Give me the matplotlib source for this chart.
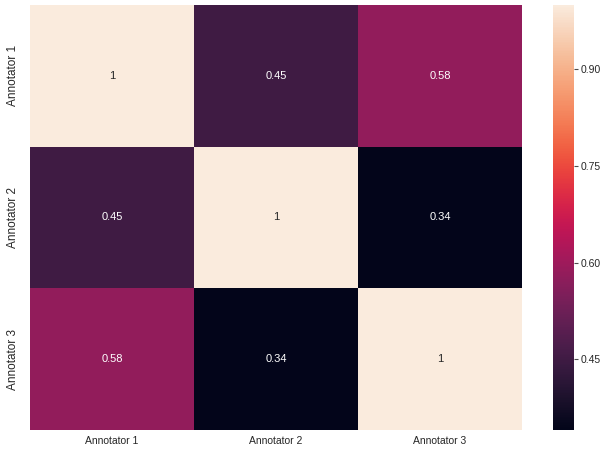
import numpy as np
import matplotlib
matplotlib.use('Agg')
import matplotlib.pyplot as plt
import seaborn as sns

# annotator agreement values
labels = ['Annotator 1', 'Annotator 2', 'Annotator 3']
row1 = [1, 0.45, 0.58]
row2 = [0.45, 1, 0.34]
row3 = [0.58, 0.34, 1]
mat = np.array([row1, row2, row3])
cbar_ticks = [0.45, 0.60, 0.75, 0.90]

sns.set_theme()
plt.rcParams['font.family'] = ['Liberation Sans', 'DejaVu Sans']

fig = plt.figure(figsize=(6.05, 4.5), dpi=100)
ax = fig.add_axes([30/605, 20/450, 492/605, 425/450])
cax = fig.add_axes([553/605, 20/450, 21/605, 425/450])

sns.heatmap(mat, annot=True, xticklabels=labels, yticklabels=labels,
            ax=ax, cbar_ax=cax, annot_kws={'size': 8},
            cbar_kws={'ticks': cbar_ticks, 'format': '%.2f'})
ax.tick_params(axis='x', labelsize=7.5, length=0, pad=4)
ax.tick_params(axis='y', labelsize=8.5, length=0, pad=8)
cax.tick_params(labelsize=7.5, length=3, width=0.8, color='.3', pad=2)

fig.savefig('out.png', dpi=100)
